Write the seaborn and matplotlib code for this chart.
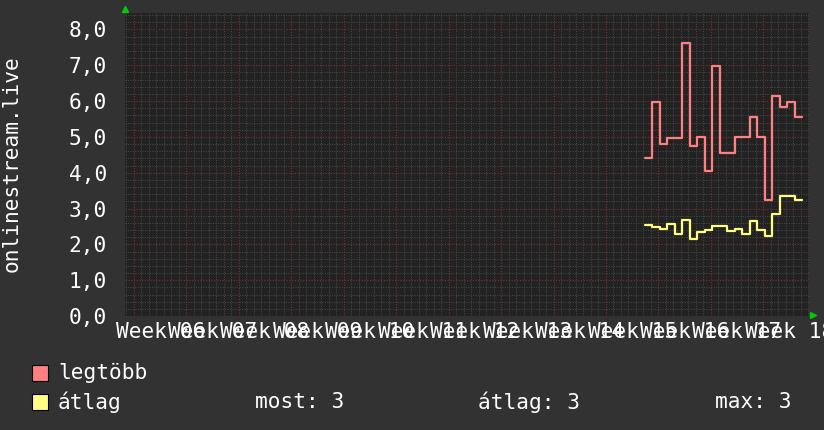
import numpy as np
import pandas as pd
import seaborn as sns
import matplotlib.pyplot as plt
from matplotlib.patches import Rectangle

# napi mintak (nap a "Week 06" hetfojetol szamolva)
first_day = 68.2
legtobb = [4.41, 5.98, 4.80, 4.98, 4.98, 7.63, 4.75, 5.00, 4.04, 6.97, 4.55,
           4.55, 5.00, 5.00, 5.56, 5.00, 3.23, 6.14, 5.84, 5.98, 5.56]
atlag = [2.54, 2.49, 2.43, 2.57, 2.28, 2.67, 2.15, 2.34, 2.41, 2.50, 2.50,
         2.36, 2.42, 2.30, 2.64, 2.40, 2.23, 2.86, 3.35, 3.35, 3.23]
week_labels = ["Week 06", "Week 07", "Week 08", "Week 09", "Week 10", "Week 11",
               "Week 12", "Week 13", "Week 14", "Week 15", "Week 16", "Week 17",
               "Week 18"]
stats = [("most", 3), ("átlag", 3), ("max", 3)]

BG = "#323232"
PLOT_BG = "#222222"
RED = "#ff8080"
YELLOW = "#ffff80"

sns.set_style("dark")
plt.rcParams["font.family"] = ["DejaVu Sans Mono", "DejaVu Sans"]
FS = 15.2

# steps-post: az utolso ertek a nap vegeig tart
days = first_day + np.arange(len(legtobb) + 1)
df = pd.DataFrame({
    "nap": np.concatenate([days, days]),
    "ertek": legtobb + legtobb[-1:] + atlag + atlag[-1:],
    "sor": ["legtöbb"] * len(days) + ["átlag"] * len(days),
})

fig = plt.figure(figsize=(8.24, 4.30), dpi=100, facecolor=BG)
W, H = 824, 430
ax = fig.add_axes([125 / W, (H - 316) / H, (809 - 125) / W, (316 - 13) / H])
ax.set_facecolor(PLOT_BG)

sns.lineplot(data=df, x="nap", y="ertek", hue="sor",
             palette={"legtöbb": RED, "átlag": YELLOW},
             drawstyle="steps-post", linewidth=1.6, legend=False, ax=ax)

ax.set_xlim(-1.2, 90.1)
ax.set_ylim(0, 8.46)
ax.set_xticks(np.arange(len(week_labels)) * 7)
ax.set_xticks(np.arange(-1, 91), minor=True)
ax.set_yticks(np.arange(0, 9))
ax.set_yticks(np.arange(0, 8.5, 0.2), minor=True)
ax.grid(which="minor", color="#4a4a4a", linestyle=(0, (1, 1.5)), linewidth=0.7)
ax.grid(which="major", color="#7a3232", linestyle=(0, (1, 1.5)), linewidth=0.8)
ax.set_axisbelow(True)
for s in ax.spines.values():
    s.set_visible(False)

ax.set_xticklabels([])
ax.set_yticklabels([f"{v:.1f}".replace(".", ",") for v in range(0, 9)])
ax.tick_params(axis="y", which="both", length=0, pad=13, labelsize=FS,
               labelcolor="white")
ax.tick_params(axis="x", which="both", length=0)
ax.set_xlabel("")
ax.set_ylabel("")

# heti feliratok a het kozepere
for i, lab in enumerate(week_labels):
    ax.annotate(lab, xy=(i * 7 + 3.5, 0), xycoords=("data", "axes fraction"),
                xytext=(0, -4), textcoords="offset points", ha="center", va="top",
                color="white", fontsize=FS, annotation_clip=False)

fig.text(12 / W, 1 - 164 / H, "onlinestream.live", rotation=90, ha="center",
         va="center", color="white", fontsize=FS)

# zold nyilak
ax.plot([0], [1.012], marker="^", color="#00cc00", markersize=5,
        transform=ax.transAxes, clip_on=False)
ax.plot([1.006], [0.003], marker=">", color="#00cc00", markersize=5,
        transform=ax.transAxes, clip_on=False)

# jelmagyarazat
for row, (name, col) in enumerate([("legtöbb", RED), ("átlag", YELLOW)]):
    yc = 373 + row * 29
    fig.add_artist(Rectangle((32 / W, 1 - (yc + 8) / H), 16 / W, 16 / H,
                             facecolor=col, edgecolor="black", linewidth=0.8,
                             transform=fig.transFigure))
    fig.text(58 / W, 1 - yc / H, name, ha="left", va="center", color="white",
             fontsize=FS)
for (name, val), xpos in zip(stats, [255, 478, 715]):
    fig.text(xpos / W, 1 - 402 / H, f"{name}: {val}", ha="left", va="center",
             color="white", fontsize=FS)

fig.savefig("out.png", dpi=100, facecolor=BG)
